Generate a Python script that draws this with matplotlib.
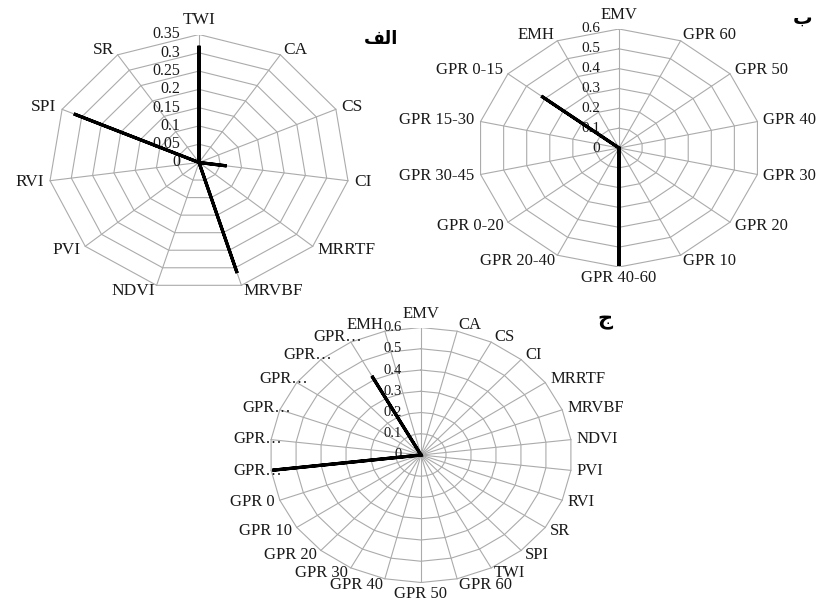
import numpy as np
import matplotlib
matplotlib.use("Agg")
import matplotlib.pyplot as plt

# ---------------- data ----------------
cats_a = ['TWI', 'CA', 'CS', 'CI', 'MRRTF', 'MRVBF', 'NDVI', 'PVI', 'RVI', 'SPI', 'SR']
vals_a = [0.315, 0, 0, 0.065, 0, 0.315, 0, 0, 0, 0.32, 0]
ticks_a = [0, 0.05, 0.1, 0.15, 0.2, 0.25, 0.3, 0.35]
ticklabels_a = ['0', '0.05', '0.1', '0.15', '0.2', '0.25', '0.3', '0.35']

cats_b = ['EMV', 'GPR 60', 'GPR 50', 'GPR 40', 'GPR 30', 'GPR 20', 'GPR 10',
          'GPR 40-60', 'GPR 20-40', 'GPR 0-20', 'GPR 30-45', 'GPR 15-30', 'GPR 0-15', 'EMH']
vals_b = [0, 0, 0, 0, 0, 0, 0, 0.595, 0, 0, 0, 0, 0.42, 0]
ticks_b = [0, 0.1, 0.2, 0.3, 0.4, 0.5, 0.6]
ticklabels_b = ['0', '0.1', '0.2', '0.3', '0.4', '0.5', '0.6']

cats_c = ['EMV', 'CA', 'CS', 'CI', 'MRRTF', 'MRVBF', 'NDVI', 'PVI', 'RVI', 'SR', 'SPI', 'TWI',
          'GPR 60', 'GPR 50', 'GPR 40', 'GPR 30', 'GPR 20', 'GPR 10', 'GPR 0',
          'GPR…', 'GPR…', 'GPR…', 'GPR…', 'GPR…', 'GPR…', 'EMH']
vals_c = [0, 0, 0, 0, 0, 0, 0, 0, 0, 0, 0, 0, 0, 0, 0, 0, 0, 0, 0,
          0.595, 0, 0, 0, 0, 0.42, 0]
ticks_c = [0, 0.1, 0.2, 0.3, 0.4, 0.5, 0.6]
ticklabels_c = ['0', '0.1', '0.2', '0.3', '0.4', '0.5', '0.6']

# Arabic panel letters (shaped presentation forms, visual order)
title_a = '\uFED2\uFEDF\uFE8D'   # الف
title_b = '\u0628'               # ب
title_c = '\u062C'               # ج

# ---------------- style ----------------
W, H = 819, 602
FONT = 'Liberation Serif'
GRID = '#ababab'
PX = 72.0 / 100.0   # points per pixel at dpi 100

fig = plt.figure(figsize=(W / 100, H / 100), dpi=100)


def radar(cx, cy, rx, ry, cats, vals, ticks, ticklabels, fs_lab, fs_tick):
    ax = fig.add_axes([(cx - rx) / W, 1 - (cy + ry) / H, 2 * rx / W, 2 * ry / H])
    ax.set_xlim(-1, 1)
    ax.set_ylim(-1, 1)
    ax.axis('off')
    n = len(cats)
    vmax = ticks[-1]
    th = np.arange(n) * 2 * np.pi / n
    s, c = np.sin(th), np.cos(th)
    # rings
    for t in ticks[1:]:
        r = t / vmax
        ax.plot(np.append(r * s, r * s[0]), np.append(r * c, r * c[0]),
                color=GRID, lw=0.8, zorder=1, solid_joinstyle='miter')
    # spokes
    for i in range(n):
        ax.plot([0, s[i]], [0, c[i]], color=GRID, lw=0.8, zorder=1)
    # data
    v = np.asarray(vals) / vmax
    ax.plot(np.append(v * s, v[0] * s[0]), np.append(v * c, v[0] * c[0]),
            color='black', lw=2.3, zorder=3, solid_joinstyle='miter')
    # category labels
    for i, lab in enumerate(cats):
        if abs(s[i]) < 0.05:
            ha = 'center'
            dx, dy = 0, (14 if c[i] > 0 else -11)
        else:
            ha = 'left' if s[i] > 0 else 'right'
            dx, dy = 6 * s[i], 6 * c[i]
            if lab.endswith('…'):
                dx = 11
        ax.annotate(lab, xy=(s[i], c[i]), xytext=(dx * PX, dy * PX),
                    textcoords='offset points', ha=ha, va='center',
                    fontsize=fs_lab, family=FONT, color='#1a1a1a',
                    annotation_clip=False)
    # value tick labels
    for t, tl in zip(ticks, ticklabels):
        ax.annotate(tl, xy=(0, t / vmax), xytext=(-19 * PX, 0),
                    textcoords='offset points', ha='right', va='center',
                    fontsize=fs_tick, family=FONT, color='#1a1a1a',
                    annotation_clip=False, zorder=2)
    return ax


radar(199, 162.5, 150.5, 128, cats_a, vals_a, ticks_a, ticklabels_a, 12.5, 11.5)
radar(619, 148, 142, 119, cats_b, vals_b, ticks_b, ticklabels_b, 12, 11)
radar(421, 455, 151, 127.5, cats_c, vals_c, ticks_c, ticklabels_c, 12, 10.5)

fig.text(381 / W, 1 - 39 / H, title_a, ha='center', va='center',
         fontsize=13, fontweight='bold', family='DejaVu Sans')
fig.text(803 / W, 1 - 18 / H, title_b, ha='center', va='center',
         fontsize=14, fontweight='bold', family='DejaVu Sans')
fig.text(605 / W, 1 - 320 / H, title_c, ha='center', va='center',
         fontsize=15, fontweight='bold', family='DejaVu Sans')

fig.savefig('out.png', dpi=100)
